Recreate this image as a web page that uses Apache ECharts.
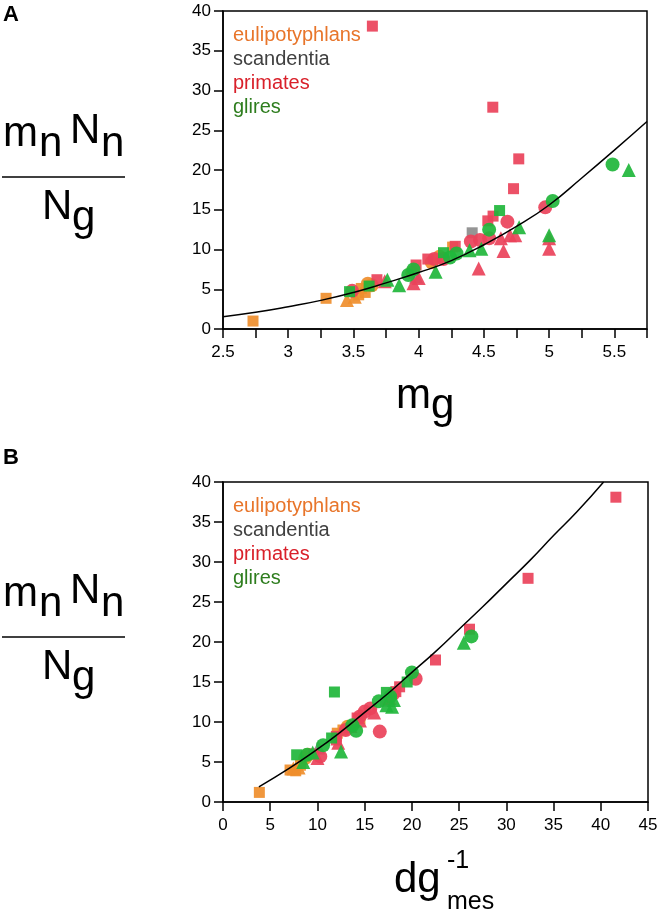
<!DOCTYPE html>
<html>
<head>
<meta charset="utf-8">
<script src="https://cdn.jsdelivr.net/npm/echarts@6/dist/echarts.min.js"></script>
<style>
  html, body { margin: 0; padding: 0; background: #fff; }
</style>
</head>
<body>
<div id="main" style="width: 661px; height: 913px"></div>
<script>
// 群組名稱與顏色
const groupNames = ['eulipotyphlans', 'scandentia', 'primates', 'glires']
const markerColors = ['#EF8E2C', '#8C8C8C', '#EA425A', '#1FB63B']
const legendColors = ['#E8752A', '#404040', '#D9202A', '#2E7D1E']

// 刻度標籤
const xTicksA = [2.5, 3, 3.5, 4, 4.5, 5, 5.5]
const xTicksB = [0, 5, 10, 15, 20, 25, 30, 35, 40, 45]
const yTicks = [0, 5, 10, 15, 20, 25, 30, 35, 40]

// Panel A: [m_g, mnNn/Ng, 形狀]  s = 方形, c = 圓形, t = 三角形
const eulA = [
  [2.73, 1.0, 's'], [3.29, 3.86, 's'], [3.45, 3.65, 't'], [3.51, 4.06, 't'],
  [3.54, 4.3, 's'], [3.59, 4.6, 's'], [3.56, 5.1, 's'], [3.61, 5.7, 'c'],
  [3.64, 5.5, 'c'], [3.95, 7.1, 'c'], [4.10, 8.4, 'c'], [4.16, 9.1, 'c'],
  [4.26, 10.3, 's'],
]
const scaA = [[4.41, 12.1, 's'], [3.98, 6.6, 't']]
const priA = [
  [3.645, 38.1, 's'], [4.568, 27.9, 's'], [4.767, 21.4, 's'], [4.727, 17.65, 's'],
  [4.57, 14.2, 's'], [4.53, 13.6, 's'], [4.28, 10.4, 's'], [4.07, 8.8, 's'],
  [3.98, 8.05, 's'], [3.68, 6.2, 's'],
  [4.97, 15.3, 'c'], [4.68, 13.5, 'c'], [4.54, 11.4, 'c'], [4.47, 11.2, 'c'],
  [4.40, 11.0, 'c'], [4.19, 8.8, 'c'], [4.12, 8.8, 'c'], [3.49, 4.8, 'c'],
  [4.63, 11.4, 't'], [4.70, 11.8, 't'], [4.74, 11.8, 't'], [5.0, 11.4, 't'],
  [5.0, 10.1, 't'], [4.65, 9.8, 't'], [4.46, 7.6, 't'], [3.96, 5.75, 't'],
  [4.0, 6.4, 't'], [3.74, 6.0, 't'],
]
const gliA = [
  [5.486, 20.7, 'c'], [5.027, 16.1, 'c'], [4.54, 12.5, 'c'], [4.29, 9.5, 'c'],
  [4.24, 9.0, 'c'], [3.92, 6.8, 'c'], [3.96, 7.5, 'c'],
  [5.61, 20.0, 't'], [4.77, 12.8, 't'], [5.0, 11.8, 't'], [4.48, 10.1, 't'],
  [4.39, 9.9, 't'], [4.13, 7.2, 't'], [3.85, 5.5, 't'], [3.76, 6.2, 't'],
  [4.62, 14.9, 's'], [4.19, 9.6, 's'], [3.62, 5.4, 's'], [3.47, 4.7, 's'],
]
// 擬合曲線 A
const fitA = [
  [2.5, 1.55], [2.75, 2.1], [3.0, 2.8], [3.25, 3.6], [3.5, 4.6], [3.75, 5.8],
  [4.0, 7.1], [4.25, 8.6], [4.5, 10.6], [4.75, 12.9], [5.0, 15.6], [5.25, 19.0],
  [5.5, 22.5], [5.75, 26.1],
]

// Panel B: [dg_mes^-1, mnNn/Ng, 形狀]
const eulB = [
  [3.85, 1.2, 's'], [7.1, 4.0, 's'], [7.45, 4.2, 't'], [7.7, 3.9, 's'],
  [8.0, 4.3, 't'], [8.2, 4.6, 's'], [8.7, 5.5, 'c'], [9.0, 5.9, 'c'],
  [12.1, 8.6, 's'], [12.7, 9.0, 's'], [13.2, 9.4, 'c'], [14.5, 10.4, 's'],
]
const scaB = [[17.2, 12.6, 's'], [10.1, 6.8, 't']]
const priB = [
  [41.6, 38.1, 's'], [32.3, 27.96, 's'], [26.1, 21.6, 's'], [22.5, 17.75, 's'],
  [18.7, 14.4, 's'], [18.3, 13.8, 's'], [14.2, 10.5, 's'], [12.0, 8.2, 's'],
  [12.0, 7.75, 's'], [9.6, 6.0, 's'],
  [20.4, 15.4, 'c'], [18.0, 13.5, 'c'], [16.6, 8.8, 'c'], [15.6, 11.7, 'c'],
  [15.0, 11.3, 'c'], [14.5, 10.7, 'c'], [13.0, 9.0, 'c'], [10.3, 5.7, 'c'],
  [14.5, 10.2, 't'], [12.2, 7.4, 't'], [17.6, 13.0, 't'], [10.0, 5.5, 't'],
  [16.0, 11.2, 't'], [13.5, 9.5, 't'],
]
const gliB = [
  [26.3, 20.7, 'c'], [20.0, 16.2, 'c'], [17.7, 13.2, 'c'], [16.5, 12.6, 'c'],
  [14.1, 8.9, 'c'], [13.7, 9.6, 'c'], [10.6, 7.1, 'c'], [8.9, 5.9, 'c'],
  [25.5, 19.9, 't'], [17.9, 11.9, 't'], [18.1, 12.75, 't'], [12.5, 6.3, 't'],
  [17.3, 12.1, 't'], [8.5, 5.0, 't'], [9.5, 6.2, 't'],
  [19.5, 15.0, 's'], [17.3, 13.7, 's'], [11.8, 13.75, 's'], [7.8, 5.9, 's'],
  [11.5, 8.0, 's'],
]
// 擬合曲線 B
const fitB = [
  [3.8, 1.9], [7, 4.2], [10, 6.6], [12.5, 8.8], [15, 11.2], [17.5, 13.6],
  [20, 16.2], [22.5, 18.8], [25, 21.6], [27.5, 24.4], [30, 27.3], [32.5, 30.2],
  [35, 33.3], [37.5, 36.3], [40.3, 40],
]

const myChart = echarts.init(document.getElementById('main'))
const FONT = 'Liberation Sans, Arial, Helvetica, sans-serif'

const shapeOf = { s: 'rect', c: 'circle', t: 'triangle' }
const sizeOf = { s: 11, c: 14, t: 14 }

const scatter = (name, data, color, idx) => ({
  name,
  type: 'scatter',
  xAxisIndex: idx,
  yAxisIndex: idx,
  data,
  symbol: (v) => shapeOf[v[2]],
  symbolSize: (v) => sizeOf[v[2]],
  itemStyle: { color, opacity: 0.92 },
  z: 2,
})

const fitLine = (data, idx) => ({
  type: 'line',
  xAxisIndex: idx,
  yAxisIndex: idx,
  data,
  smooth: true,
  showSymbol: false,
  lineStyle: { color: '#000', width: 1.5 },
  z: 5,
})

const axisCommon = {
  type: 'value',
  splitLine: { show: false },
  axisLine: { show: true, onZero: false, lineStyle: { color: '#000', width: 1.5 } },
  axisTick: { show: true, inside: false, length: 9, lineStyle: { color: '#000', width: 1.5 } },
  axisLabel: { color: '#000', fontSize: 17, fontFamily: FONT },
}

const legendText = (top) =>
  groupNames.map((n, i) => ({
    type: 'text',
    x: 233,
    y: top + i * 24.3,
    style: { text: n, fill: legendColors[i], font: '20px ' + FONT, verticalAlign: 'middle', textVerticalAlign: 'middle' },
  }))

const t = (str, x, y, size, extra = {}) => ({
  type: 'text',
  x,
  y,
  style: Object.assign({ text: str, fill: '#000', font: size + 'px ' + FONT, verticalAlign: 'middle', textVerticalAlign: 'middle' }, extra),
})

// 左側分數標題
const fraction = (dy) => [
  t('m', 3, 134 + dy, 42),
  t('n', 39, 144 + dy, 42),
  t('N', 70, 131 + dy, 42),
  t('n', 101, 144 + dy, 42),
  { type: 'line', shape: { x1: 2, y1: 177 + dy, x2: 125, y2: 177 + dy }, style: { stroke: '#000', lineWidth: 1.5 } },
  t('N', 42, 207 + dy, 42),
  t('g', 72, 218 + dy, 42),
]

const option = {
  animation: false,
  backgroundColor: '#fff',
  grid: [
    { left: 223, top: 11, width: 424, height: 318, show: true, borderColor: '#000', borderWidth: 1.5 },
    { left: 223, top: 482, width: 425, height: 320, show: true, borderColor: '#000', borderWidth: 1.5 },
  ],
  xAxis: [
    Object.assign({}, axisCommon, {
      gridIndex: 0,
      min: 2.5,
      max: 5.75,
      interval: 0.25,
      axisLabel: Object.assign({}, axisCommon.axisLabel, {
        margin: 15,
        formatter: (v) => (xTicksA.some((k) => Math.abs(k - v) < 1e-6) ? String(v) : ''),
      }),
    }),
    Object.assign({}, axisCommon, {
      gridIndex: 1,
      min: xTicksB[0],
      max: xTicksB[xTicksB.length - 1],
      interval: 5,
      axisLabel: Object.assign({}, axisCommon.axisLabel, { margin: 15 }),
    }),
  ],
  yAxis: [0, 1].map((g) =>
    Object.assign({}, axisCommon, {
      gridIndex: g,
      min: yTicks[0],
      max: yTicks[yTicks.length - 1],
      interval: 5,
      axisLabel: Object.assign({}, axisCommon.axisLabel, { margin: 12 }),
    }),
  ),
  series: [
    scatter('eulipotyphlans', eulA, markerColors[0], 0),
    scatter('scandentia', scaA, markerColors[1], 0),
    scatter('primates', priA, markerColors[2], 0),
    scatter('glires', gliA, markerColors[3], 0),
    fitLine(fitA, 0),
    scatter('eulipotyphlans', eulB, markerColors[0], 1),
    scatter('scandentia', scaB, markerColors[1], 1),
    scatter('primates', priB, markerColors[2], 1),
    scatter('glires', gliB, markerColors[3], 1),
    fitLine(fitB, 1),
  ],
  graphic: [
    t('A', 3, 15, 22, { font: 'bold 22px ' + FONT }),
    t('B', 3, 458, 22, { font: 'bold 22px ' + FONT }),
    ...legendText(35),
    ...legendText(506),
    ...fraction(0),
    ...fraction(460),
    // x 軸標題
    t('m', 396, 396, 42),
    t('g', 431, 406, 42),
    t('dg', 394, 880, 42),
    t('-1', 447, 861, 25),
    t('mes', 447, 902, 25),
  ],
}

myChart.setOption(option, true)
</script>
</body>
</html>
